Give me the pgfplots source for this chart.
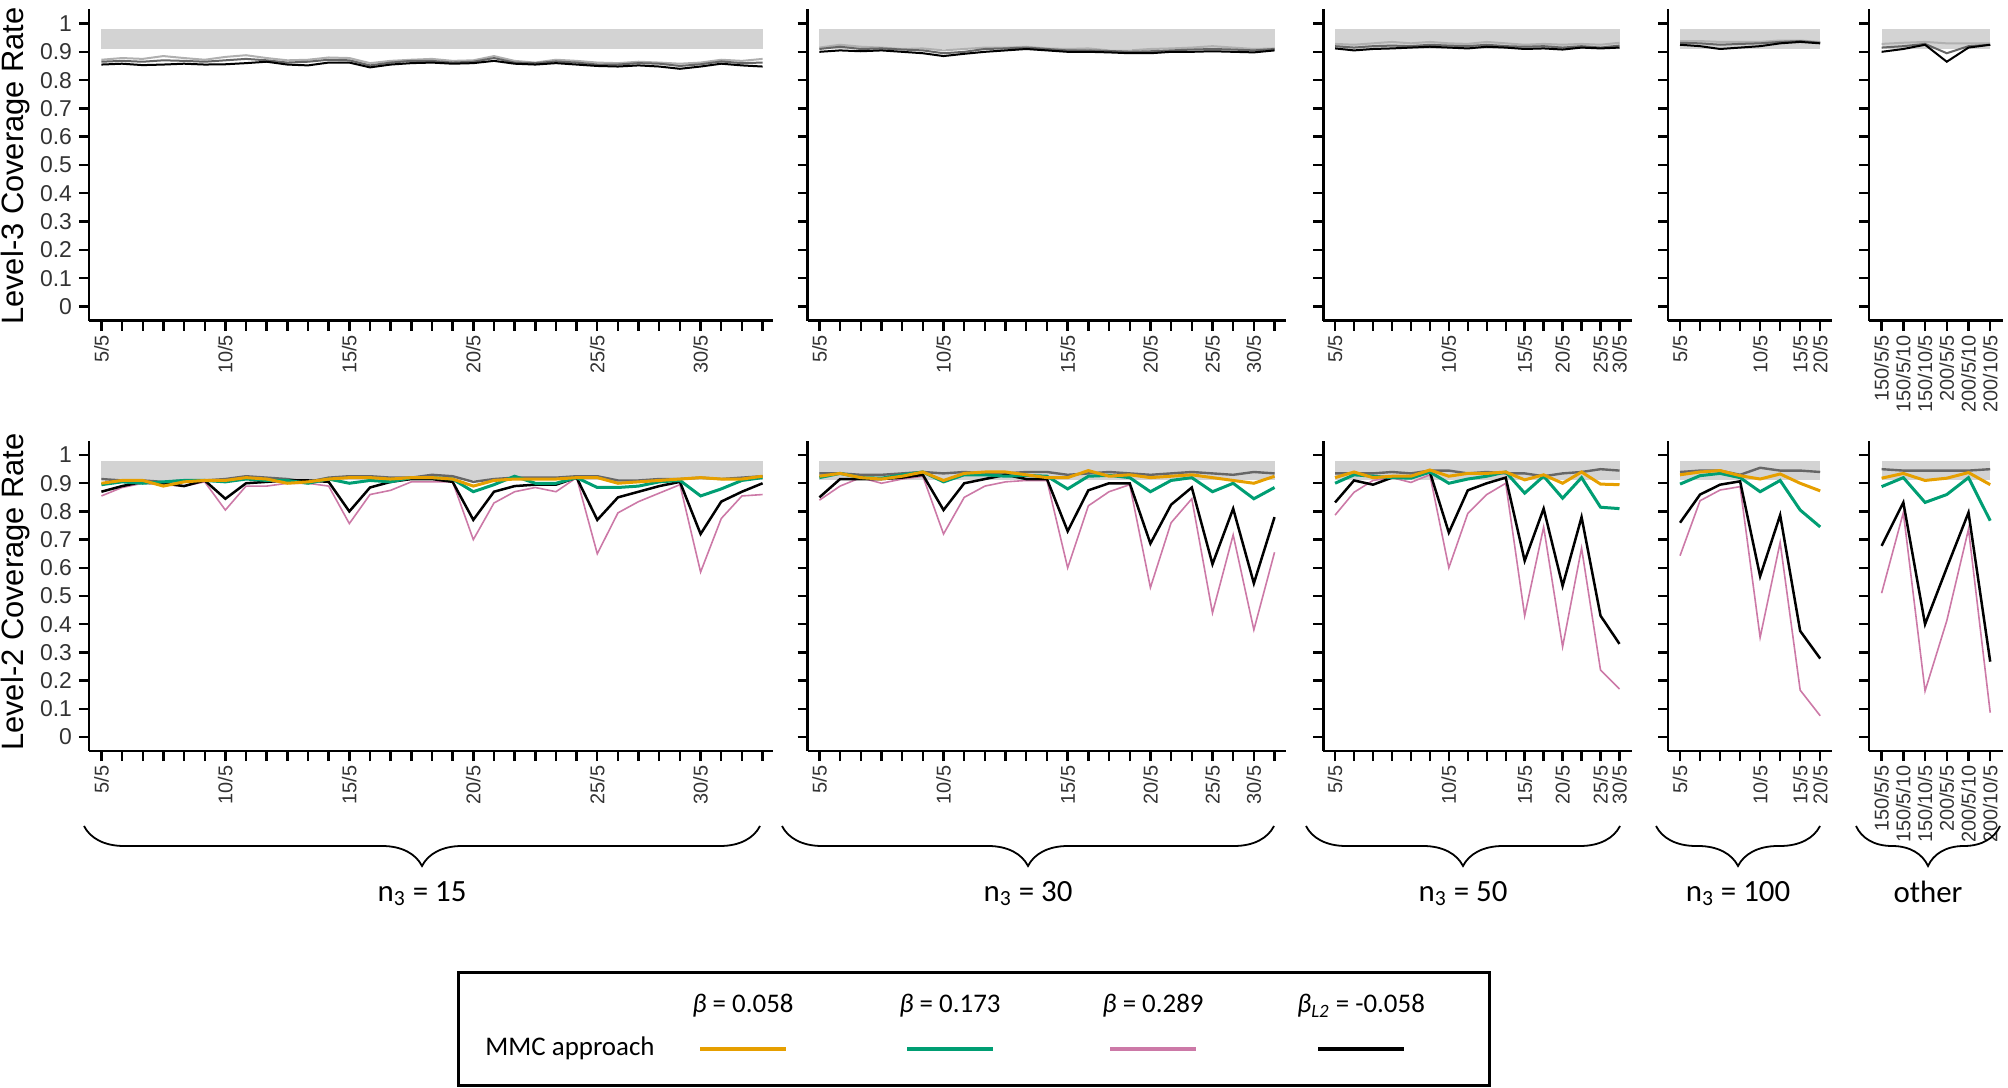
\documentclass[border=0pt]{standalone}
\usepackage{pgfplots}
\pgfplotsset{compat=1.18}
\usetikzlibrary{decorations.pathreplacing}
\usepackage{fontspec}
\setmainfont{Liberation Sans}
\newfontfamily\calfont{Carlito}
\definecolor{cor}{HTML}{E69F00}
\definecolor{cgn}{HTML}{009E73}
\definecolor{cpk}{HTML}{CC79A7}
\definecolor{band}{HTML}{D3D3D3}
\definecolor{dg}{HTML}{666666}
\definecolor{lg}{HTML}{B0B0B0}
\pgfplotsset{
 table/x expr=\coordindex, table/header=false, table/row sep=\\, table/y index=0,
 panel/.style={scale only axis, ymin=-0.05, ymax=1.05,
  ytick={0,0.1,0.2,0.3,0.4,0.5,0.6,0.7,0.8,0.9,1}, yticklabels={},
  axis x line*=bottom, axis y line*=left, axis line style={line width=1.25bp,-},
  tick style={line width=1.2bp,black}, major tick length=5bp, tick align=outside,
  xticklabel style={rotate=90,anchor=east,font=\fontsize{10}{10}\selectfont,text=black!80, inner sep=2bp},
  yticklabel style={font=\fontsize{11.5}{11.5}\selectfont,text=black!80},
  clip=false},
 tp/.style={height=155.6bp},
 bt/.style={height=155bp},
 p1/.style={width=341.75bp, xmin=-0.6, xmax=32.48, xtick={0,...,32},
  xticklabels={5/5,{},{},{},{},{},10/5,{},{},{},{},{},15/5,{},{},{},{},{},20/5,{},{},{},{},{},25/5,{},{},{},{},30/5,{},{},{}},
  yticklabels={0,0.1,0.2,0.3,0.4,0.5,0.6,0.7,0.8,0.9,1}},
 p2/.style={width=238.95bp, xmin=-0.57, xmax=22.53, xtick={0,...,22},
  xticklabels={5/5,{},{},{},{},{},10/5,{},{},{},{},{},15/5,{},{},{},20/5,{},{},25/5,{},30/5,{}}},
 p3/.style={width=154.35bp, xmin=-0.62, xmax=15.66, xtick={0,...,15},
  xticklabels={5/5,{},{},{},{},{},10/5,{},{},{},15/5,{},20/5,{},25/5,30/5}},
 p4/.style={width=81.9bp, xmin=-0.59, xmax=7.59, xtick={0,...,7},
  xticklabels={5/5,{},{},{},10/5,{},15/5,20/5}},
 p5/.style={width=66.9bp, xmin=-0.58, xmax=5.58, xtick={0,...,5},
  xticklabels={150/5/5,150/5/10,150/10/5,200/5/5,200/5/10,200/10/5}},
 bk/.style={black,line width=1bp},
 mg/.style={dg,line width=1bp},
 lgs/.style={lg,line width=1bp},
 gy/.style={dg,line width=1.2bp},
 pk/.style={cpk,line width=0.8bp},
 bl/.style={black,line width=1.25bp},
 gn/.style={cgn,line width=1.5bp},
 orr/.style={cor,line width=1.5bp},
}
\begin{document}
\begin{tikzpicture}
\useasboundingbox (0,0) rectangle (1004bp,544bp);
% ---------------- TOP ROW ----------------
\begin{axis}[panel,tp,p1,at={(44.5bp,383.7bp)},anchor=south west]
\addplot[fill=band,draw=none] coordinates {(0,0.91)(32,0.91)(32,0.98)(0,0.98)} -- cycle;
\addplot[lgs] table {0.872\\0.878\\0.875\\0.885\\0.878\\0.872\\0.882\\0.888\\0.878\\0.87\\0.872\\0.88\\0.878\\0.86\\0.868\\0.872\\0.875\\0.868\\0.87\\0.885\\0.868\\0.862\\0.872\\0.868\\0.862\\0.86\\0.865\\0.862\\0.858\\0.862\\0.872\\0.868\\0.875\\};
\addplot[mg] table {0.865\\0.868\\0.865\\0.87\\0.868\\0.865\\0.87\\0.875\\0.87\\0.862\\0.865\\0.872\\0.87\\0.852\\0.862\\0.868\\0.868\\0.862\\0.865\\0.878\\0.862\\0.86\\0.866\\0.862\\0.855\\0.855\\0.86\\0.858\\0.85\\0.856\\0.866\\0.86\\0.862\\};
\addplot[bk] table {0.855\\0.858\\0.853\\0.855\\0.858\\0.855\\0.856\\0.86\\0.865\\0.855\\0.852\\0.862\\0.862\\0.845\\0.855\\0.86\\0.862\\0.858\\0.86\\0.868\\0.858\\0.855\\0.86\\0.855\\0.85\\0.848\\0.852\\0.848\\0.84\\0.848\\0.858\\0.852\\0.848\\};
\end{axis}
\begin{axis}[panel,tp,p2,at={(403.8bp,383.7bp)},anchor=south west]
\addplot[fill=band,draw=none] coordinates {(0,0.91)(22,0.91)(22,0.98)(0,0.98)} -- cycle;
\addplot[lgs] table {0.915\\0.925\\0.918\\0.915\\0.91\\0.912\\0.905\\0.91\\0.915\\0.915\\0.918\\0.912\\0.91\\0.912\\0.905\\0.905\\0.91\\0.912\\0.915\\0.92\\0.915\\0.91\\0.912\\};
\addplot[mg] table {0.91\\0.918\\0.91\\0.912\\0.908\\0.905\\0.895\\0.9\\0.91\\0.912\\0.915\\0.91\\0.905\\0.905\\0.903\\0.9\\0.902\\0.905\\0.908\\0.91\\0.908\\0.905\\0.91\\};
\addplot[bk] table {0.9\\0.905\\0.902\\0.905\\0.9\\0.895\\0.885\\0.893\\0.9\\0.905\\0.91\\0.905\\0.9\\0.9\\0.898\\0.895\\0.895\\0.9\\0.9\\0.902\\0.9\\0.898\\0.905\\};
\end{axis}
\begin{axis}[panel,tp,p3,at={(661.65bp,383.7bp)},anchor=south west]
\addplot[fill=band,draw=none] coordinates {(0,0.91)(15,0.91)(15,0.98)(0,0.98)} -- cycle;
\addplot[lgs] table {0.928\\0.925\\0.93\\0.935\\0.93\\0.935\\0.93\\0.928\\0.935\\0.93\\0.925\\0.928\\0.925\\0.928\\0.925\\0.932\\};
\addplot[mg] table {0.92\\0.915\\0.92\\0.922\\0.92\\0.925\\0.922\\0.92\\0.925\\0.92\\0.918\\0.92\\0.915\\0.92\\0.915\\0.922\\};
\addplot[bk] table {0.912\\0.905\\0.91\\0.912\\0.915\\0.918\\0.915\\0.912\\0.918\\0.915\\0.91\\0.912\\0.908\\0.915\\0.912\\0.915\\};
\end{axis}
\begin{axis}[panel,tp,p4,at={(834.1bp,383.7bp)},anchor=south west]
\addplot[fill=band,draw=none] coordinates {(0,0.91)(7,0.91)(7,0.98)(0,0.98)} -- cycle;
\addplot[lgs] table {0.938\\0.938\\0.935\\0.935\\0.935\\0.94\\0.94\\0.935\\};
\addplot[mg] table {0.932\\0.93\\0.925\\0.928\\0.93\\0.935\\0.938\\0.932\\};
\addplot[bk] table {0.925\\0.92\\0.91\\0.915\\0.92\\0.93\\0.935\\0.93\\};
\end{axis}
\begin{axis}[panel,tp,p5,at={(934.5bp,383.7bp)},anchor=south west]
\addplot[fill=band,draw=none] coordinates {(0,0.91)(5,0.91)(5,0.98)(0,0.98)} -- cycle;
\addplot[lgs] table {0.928\\0.932\\0.935\\0.93\\0.93\\0.93\\};
\addplot[mg] table {0.915\\0.92\\0.928\\0.895\\0.92\\0.925\\};
\addplot[bk] table {0.9\\0.91\\0.925\\0.865\\0.915\\0.925\\};
\end{axis}
% ---------------- BOTTOM ROW ----------------
\begin{axis}[panel,bt,p1,at={(44.5bp,168.5bp)},anchor=south west]
\addplot[fill=band,draw=none] coordinates {(0,0.91)(32,0.91)(32,0.98)(0,0.98)} -- cycle;
\addplot[gy] table {0.915\\0.91\\0.91\\0.905\\0.91\\0.91\\0.915\\0.925\\0.92\\0.915\\0.905\\0.92\\0.925\\0.925\\0.92\\0.92\\0.93\\0.925\\0.905\\0.915\\0.92\\0.92\\0.92\\0.925\\0.925\\0.91\\0.91\\0.915\\0.915\\0.92\\0.915\\0.92\\0.925\\};
\addplot[pk] table {0.855\\0.885\\0.9\\0.895\\0.89\\0.905\\0.805\\0.89\\0.89\\0.9\\0.9\\0.89\\0.757\\0.86\\0.875\\0.905\\0.905\\0.905\\0.70\\0.83\\0.87\\0.885\\0.87\\0.92\\0.65\\0.795\\0.835\\0.865\\0.895\\0.585\\0.775\\0.855\\0.86\\};
\addplot[bl] table {0.87\\0.89\\0.905\\0.9\\0.89\\0.91\\0.845\\0.9\\0.905\\0.91\\0.91\\0.905\\0.80\\0.885\\0.905\\0.915\\0.915\\0.905\\0.77\\0.87\\0.89\\0.895\\0.895\\0.92\\0.77\\0.85\\0.87\\0.89\\0.905\\0.72\\0.835\\0.87\\0.9\\};
\addplot[gn] table {0.895\\0.905\\0.9\\0.905\\0.91\\0.91\\0.905\\0.915\\0.91\\0.91\\0.9\\0.915\\0.9\\0.91\\0.905\\0.92\\0.92\\0.915\\0.87\\0.895\\0.925\\0.9\\0.9\\0.92\\0.885\\0.885\\0.89\\0.905\\0.91\\0.855\\0.88\\0.91\\0.92\\};
\addplot[orr] table {0.9\\0.91\\0.91\\0.89\\0.905\\0.91\\0.91\\0.92\\0.915\\0.9\\0.905\\0.915\\0.92\\0.92\\0.915\\0.92\\0.92\\0.915\\0.89\\0.91\\0.915\\0.915\\0.915\\0.92\\0.92\\0.9\\0.905\\0.91\\0.915\\0.92\\0.915\\0.915\\0.925\\};
\end{axis}
\begin{axis}[panel,bt,p2,at={(403.8bp,168.5bp)},anchor=south west]
\addplot[fill=band,draw=none] coordinates {(0,0.91)(22,0.91)(22,0.98)(0,0.98)} -- cycle;
\addplot[gy] table {0.935\\0.935\\0.93\\0.93\\0.935\\0.94\\0.935\\0.94\\0.935\\0.935\\0.94\\0.94\\0.93\\0.935\\0.94\\0.935\\0.93\\0.935\\0.94\\0.935\\0.93\\0.94\\0.935\\};
\addplot[pk] table {0.84\\0.89\\0.92\\0.9\\0.915\\0.925\\0.72\\0.85\\0.89\\0.905\\0.91\\0.91\\0.6\\0.82\\0.87\\0.895\\0.53\\0.76\\0.845\\0.44\\0.717\\0.38\\0.655\\};
\addplot[bl] table {0.85\\0.915\\0.915\\0.915\\0.92\\0.93\\0.805\\0.9\\0.915\\0.93\\0.915\\0.915\\0.73\\0.875\\0.9\\0.9\\0.686\\0.824\\0.885\\0.613\\0.81\\0.545\\0.78\\};
\addplot[gn] table {0.92\\0.935\\0.92\\0.918\\0.93\\0.94\\0.905\\0.93\\0.93\\0.925\\0.928\\0.925\\0.88\\0.925\\0.928\\0.92\\0.87\\0.91\\0.92\\0.87\\0.9\\0.845\\0.885\\};
\addplot[orr] table {0.925\\0.935\\0.92\\0.915\\0.925\\0.94\\0.91\\0.935\\0.94\\0.94\\0.93\\0.92\\0.92\\0.945\\0.925\\0.93\\0.92\\0.925\\0.93\\0.92\\0.91\\0.9\\0.925\\};
\end{axis}
\begin{axis}[panel,bt,p3,at={(661.65bp,168.5bp)},anchor=south west]
\addplot[fill=band,draw=none] coordinates {(0,0.91)(15,0.91)(15,0.98)(0,0.98)} -- cycle;
\addplot[gy] table {0.935\\0.935\\0.935\\0.94\\0.935\\0.945\\0.945\\0.935\\0.94\\0.935\\0.935\\0.925\\0.935\\0.94\\0.95\\0.945\\};
\addplot[pk] table {0.787\\0.868\\0.91\\0.92\\0.903\\0.93\\0.6\\0.793\\0.86\\0.9\\0.43\\0.745\\0.32\\0.67\\0.237\\0.17\\};
\addplot[bl] table {0.832\\0.91\\0.895\\0.92\\0.92\\0.94\\0.725\\0.875\\0.9\\0.92\\0.625\\0.81\\0.536\\0.78\\0.43\\0.33\\};
\addplot[gn] table {0.9\\0.93\\0.925\\0.92\\0.918\\0.94\\0.9\\0.915\\0.925\\0.94\\0.865\\0.925\\0.847\\0.92\\0.815\\0.81\\};
\addplot[orr] table {0.92\\0.94\\0.92\\0.925\\0.925\\0.947\\0.925\\0.935\\0.935\\0.94\\0.912\\0.93\\0.9\\0.94\\0.897\\0.895\\};
\end{axis}
\begin{axis}[panel,bt,p4,at={(834.1bp,168.5bp)},anchor=south west]
\addplot[fill=band,draw=none] coordinates {(0,0.91)(7,0.91)(7,0.98)(0,0.98)} -- cycle;
\addplot[gy] table {0.94\\0.945\\0.945\\0.93\\0.955\\0.945\\0.945\\0.94\\};
\addplot[pk] table {0.643\\0.838\\0.876\\0.888\\0.353\\0.69\\0.166\\0.075\\};
\addplot[bl] table {0.76\\0.86\\0.895\\0.907\\0.57\\0.787\\0.376\\0.278\\};
\addplot[gn] table {0.897\\0.927\\0.935\\0.92\\0.87\\0.91\\0.805\\0.745\\};
\addplot[orr] table {0.93\\0.94\\0.945\\0.927\\0.915\\0.933\\0.9\\0.873\\};
\end{axis}
\begin{axis}[panel,bt,p5,at={(934.5bp,168.5bp)},anchor=south west]
\addplot[fill=band,draw=none] coordinates {(0,0.91)(5,0.91)(5,0.98)(0,0.98)} -- cycle;
\addplot[gy] table {0.95\\0.945\\0.945\\0.945\\0.945\\0.95\\};
\addplot[pk] table {0.51\\0.796\\0.163\\0.412\\0.737\\0.086\\};
\addplot[bl] table {0.678\\0.832\\0.4\\0.6\\0.796\\0.267\\};
\addplot[gn] table {0.888\\0.92\\0.832\\0.86\\0.92\\0.767\\};
\addplot[orr] table {0.918\\0.935\\0.91\\0.918\\0.938\\0.895\\};
\end{axis}
% y labels
\node[rotate=90,font=\fontsize{15.5}{15.5}\selectfont] at (8bp,461bp) {Level-3 Coverage Rate};
\node[rotate=90,font=\fontsize{15.5}{15.5}\selectfont] at (8bp,248bp) {Level-2 Coverage Rate};
% braces
\begin{scope}[line width=0.9bp, decoration={brace,mirror,amplitude=20bp}]
\draw[decorate] (42bp,131bp) -- (380bp,131bp) node[midway,below=24bp,font=\calfont\fontsize{15.5}{15.5}\selectfont]{n\textsubscript{3} = 15};
\draw[decorate] (391bp,131bp) -- (637bp,131bp) node[midway,below=24bp,font=\calfont\fontsize{15.5}{15.5}\selectfont]{n\textsubscript{3} = 30};
\draw[decorate] (653bp,131bp) -- (810bp,131bp) node[midway,below=24bp,font=\calfont\fontsize{15.5}{15.5}\selectfont]{n\textsubscript{3} = 50};
\draw[decorate] (828bp,131bp) -- (910bp,131bp) node[midway,below=24bp,font=\calfont\fontsize{15.5}{15.5}\selectfont]{n\textsubscript{3} = 100};
\draw[decorate] (928bp,131bp) -- (1000bp,131bp) node[midway,below=24bp,font=\calfont\fontsize{15.5}{15.5}\selectfont]{other};
\end{scope}
% legend
\draw[line width=1.5bp] (229bp,1.5bp) rectangle (744.5bp,57.5bp);
\begin{scope}[font=\calfont\fontsize{13.5}{13.5}\selectfont]
\node at (285bp,20bp) {MMC approach};
\node at (371.5bp,41bp) {\textit{β} = 0.058};
\node at (475bp,41bp) {\textit{β} = 0.173};
\node at (576.5bp,41bp) {\textit{β} = 0.289};
\node at (680.5bp,41bp) {\textit{β}\textsubscript{\textit{L2}} = -0.058};
\draw[cor,line width=1.6bp] (350bp,19.5bp) -- (393bp,19.5bp);
\draw[cgn,line width=1.6bp] (453.5bp,19.5bp) -- (496.5bp,19.5bp);
\draw[cpk,line width=1.6bp] (555bp,19.5bp) -- (598bp,19.5bp);
\draw[black,line width=1.6bp] (659bp,19.5bp) -- (702bp,19.5bp);
\end{scope}
\end{tikzpicture}
\end{document}
